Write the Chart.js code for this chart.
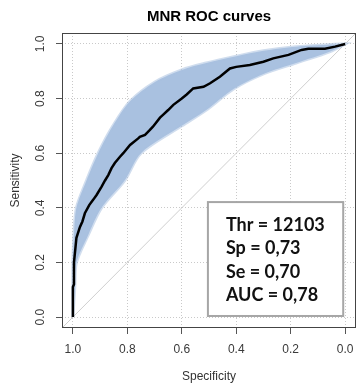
<!DOCTYPE html>
<html><head><meta charset="utf-8">
<script src="https://cdn.jsdelivr.net/npm/chart.js@4.4.1/dist/chart.umd.min.js"></script>
<style>html,body{margin:0;padding:0;background:#fff;} #wrap{width:357px;height:385px;}</style>
</head><body><div id="wrap"><canvas id="c" width="357" height="385"></canvas></div>
<script>
// ROC curve (specificity, sensitivity)
const rocSpecificity = [1.0, 1.0, 0.996, 0.996, 0.99, 0.987, 0.974, 0.965, 0.956, 0.94, 0.925, 0.913, 0.895, 0.882, 0.87, 0.858, 0.846, 0.827, 0.815, 0.79, 0.76, 0.754, 0.735, 0.717, 0.706, 0.68, 0.669, 0.65, 0.631, 0.6, 0.582, 0.558, 0.52, 0.496, 0.46, 0.423, 0.40, 0.35, 0.30, 0.264, 0.208, 0.16, 0.135, 0.074, 0.037, 0.0];
const rocSensitivity = [0.0, 0.11, 0.12, 0.20, 0.26, 0.29, 0.33, 0.35, 0.38, 0.41, 0.43, 0.447, 0.477, 0.50, 0.52, 0.545, 0.564, 0.587, 0.60, 0.63, 0.654, 0.66, 0.667, 0.685, 0.697, 0.73, 0.74, 0.758, 0.777, 0.80, 0.815, 0.837, 0.843, 0.856, 0.88, 0.91, 0.916, 0.923, 0.935, 0.947, 0.96, 0.978, 0.982, 0.982, 0.99, 1.0];
// Confidence band, upper-left edge
const ciUpperSpecificity = [1.0, 1.0, 0.996, 0.987, 0.95, 0.907, 0.853, 0.79, 0.70, 0.60, 0.51, 0.40, 0.30, 0.18, 0.05, 0.0];
const ciUpperSensitivity = [0.0, 0.2, 0.3, 0.4, 0.5, 0.6, 0.7, 0.79, 0.86, 0.905, 0.93, 0.955, 0.975, 0.99, 0.998, 1.0];
// Confidence band, lower-right edge
const ciLowerSpecificity = [1.0, 0.993, 0.987, 0.944, 0.895, 0.81, 0.75, 0.60, 0.51, 0.41, 0.30, 0.18, 0.055, 0.0];
const ciLowerSensitivity = [0.0, 0.11, 0.2, 0.3, 0.4, 0.5, 0.6, 0.70, 0.758, 0.835, 0.89, 0.93, 0.972, 1.0];
// Chance diagonal
const diagSpecificity = [1.04, -0.04];
const diagSensitivity = [-0.04, 1.04];
const statsLines = ['Thr = 12103', 'Sp = 0,73', 'Se = 0,70', 'AUC = 0,78'];
const titleText = 'MNR ROC curves';
const xTitle = 'Specificity';
const yTitle = 'Sensitivity';

const pts = (xs, ys) => xs.map((x, i) => ({x: x, y: ys[i]}));
const bandPts = pts(ciUpperSpecificity, ciUpperSensitivity)
  .concat(pts(ciLowerSpecificity, ciLowerSensitivity).reverse());

const FONT = "'Liberation Sans', Arial, sans-serif";

const framePlugin = {
  id: 'frame',
  afterDatasetsDraw(chart) {
    const {ctx, chartArea: a} = chart;
    ctx.save();
    ctx.strokeStyle = '#444';
    ctx.lineWidth = 1;
    ctx.strokeRect(a.left + 0.5, a.top + 0.5, a.right - a.left - 1, a.bottom - a.top - 1);
    ctx.restore();
  }
};
const statsPlugin = {
  id: 'statsBox',
  afterDatasetsDraw(chart) {
    const {ctx} = chart;
    const xs = chart.scales.x, ys = chart.scales.y;
    const l = xs.getPixelForValue(0.504), r = xs.getPixelForValue(0.007);
    const t = ys.getPixelForValue(0.421), b = ys.getPixelForValue(0.004);
    ctx.save();
    ctx.fillStyle = '#fff';
    ctx.fillRect(l, t, r - l, b - t);
    ctx.strokeStyle = '#a6a6a6';
    ctx.lineWidth = 2;
    ctx.strokeRect(l, t, r - l, b - t);
    ctx.fillStyle = '#111';
    ctx.font = "bold 18px Lato, 'Open Sans', sans-serif";
    ctx.textBaseline = 'middle';
    ctx.textAlign = 'left';
    statsLines.forEach((s, i) => ctx.fillText(s, l + 18, t + 23 + i * 23.4));
    ctx.restore();
  }
};

new Chart(document.getElementById('c'), {
  type: 'line',
  data: {
    datasets: [
      { label: 'ROC', data: pts(rocSpecificity, rocSensitivity), borderColor: '#000', borderWidth: 2.5,
        pointRadius: 0, fill: false, tension: 0, order: 0 },
      { label: 'CI', data: bandPts, borderColor: 'rgba(169,193,224,0.55)', borderWidth: 3,
        backgroundColor: '#a9c1e0', pointRadius: 0, fill: 'shape', tension: 0.3, order: 1 },
      { label: 'diag', data: pts(diagSpecificity, diagSensitivity), borderColor: '#cfcfcf', borderWidth: 1,
        pointRadius: 0, fill: false, order: 2 }
    ]
  },
  options: {
    responsive: false,
    animation: false,
    devicePixelRatio: 1,
    layout: { padding: { left: 0, right: 1, top: 0, bottom: 0 } },
    plugins: { legend: { display: false }, tooltip: { enabled: false }, title: { display: false } },
    scales: {
      x: {
        type: 'linear', position: 'bottom', reverse: true, min: -0.04, max: 1.04,
        afterFit(s) { s.height = 57; s.paddingLeft = 0; s.paddingRight = 0; },
        ticks: { stepSize: 0.2, includeBounds: false, padding: 8, color: '#3a3a3a',
                 font: { family: FONT, size: 12 }, callback: v => v.toFixed(1), maxRotation: 0, autoSkip: false },
        grid: { color: '#c9c9c9', tickColor: '#555', tickLength: 6, tickBorderDash: [], drawTicks: true },
        border: { display: false, dash: [1, 2] },
        title: { display: true, text: xTitle, color: '#333', font: { family: FONT, size: 12 }, padding: { top: 0, bottom: 1 } }
      },
      xTop: {
        type: 'linear', position: 'top', min: 0, max: 1, axis: 'x',
        afterFit(s) { s.height = 33; s.paddingLeft = 0; s.paddingRight = 0; },
        ticks: { display: false }, grid: { display: false }, border: { display: false },
        title: { display: true, text: titleText, color: '#000', font: { family: FONT, size: 15, weight: 'bold' }, padding: { top: 8, bottom: 0 } }
      },
      y: {
        type: 'linear', position: 'left', min: -0.04, max: 1.04,
        afterFit(s) { s.width = 62; s.paddingTop = 0; s.paddingBottom = 0; },
        ticks: { stepSize: 0.2, includeBounds: false, padding: 7, color: '#3a3a3a', crossAlign: 'center',
                 minRotation: 90, maxRotation: 90,
                 font: { family: FONT, size: 12 }, callback: v => v.toFixed(1) },
        grid: { color: '#c9c9c9', tickColor: '#555', tickLength: 6, tickBorderDash: [] },
        border: { display: false, dash: [1, 2] },
        title: { display: true, text: yTitle, color: '#333', font: { family: FONT, size: 12 }, padding: { top: 8, bottom: 0 } }
      }
    }
  },
  plugins: [framePlugin, statsPlugin]
});
</script>
</body></html>
